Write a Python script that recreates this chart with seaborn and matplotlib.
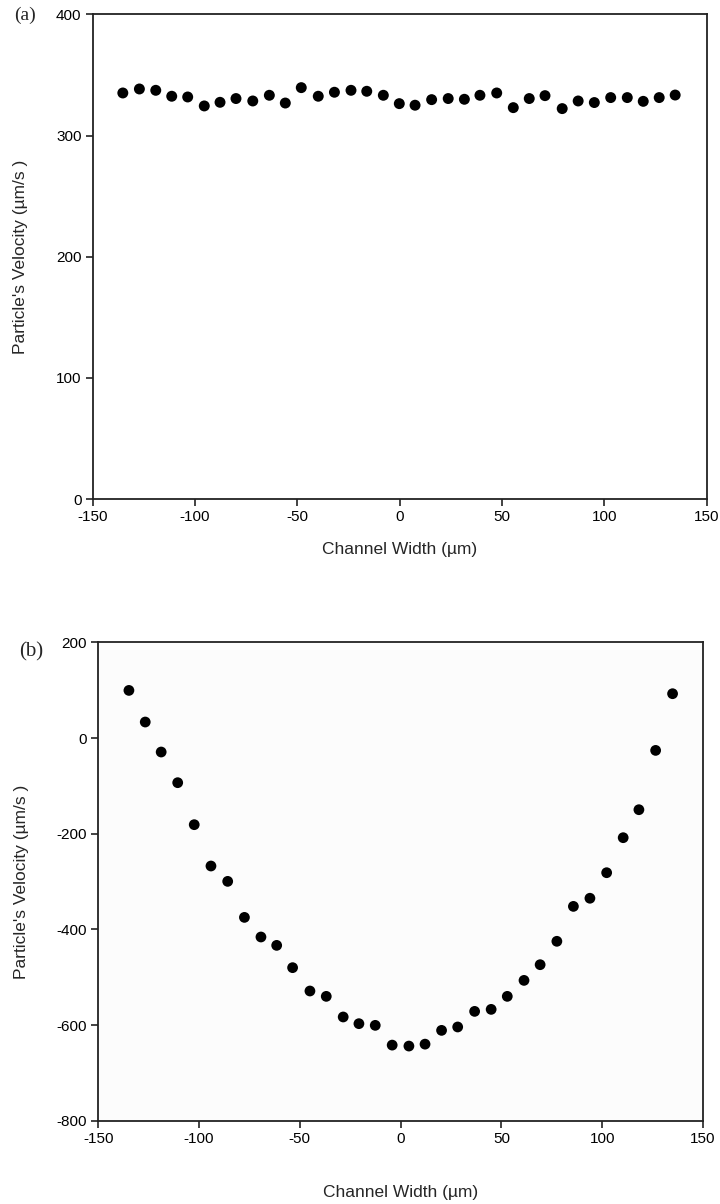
import numpy as np
import pandas as pd
import matplotlib
matplotlib.use("Agg")
import matplotlib.pyplot as plt
import seaborn as sns

# ---- data ----
x_a = [-135.3, -127.2, -119.2, -111.4, -103.6, -95.5, -87.8, -80.0, -71.8, -63.7,
       -55.9, -48.1, -39.8, -31.9, -23.8, -16.1, -8.0, -0.2, 7.5, 15.6,
       23.7, 31.6, 39.2, 47.4, 55.5, 63.3, 71.0, 79.4, 87.2, 95.1,
       103.1, 111.2, 119.0, 126.8, 134.6]
v_a = [335.1, 338.4, 337.3, 332.4, 331.8, 324.4, 327.4, 330.5, 328.5, 333.2,
       326.8, 339.5, 332.4, 335.7, 337.3, 336.5, 333.2, 326.3, 325.0, 329.6,
       330.5, 329.9, 333.2, 335.1, 323.0, 330.5, 332.9, 322.2, 328.5, 327.2,
       331.3, 331.3, 328.2, 331.3, 333.4]

x_b = [-134.8, -126.7, -118.8, -110.6, -102.4, -94.1, -85.8, -77.5, -69.3, -61.5,
       -53.6, -45.0, -36.9, -28.5, -20.7, -12.6, -4.2, 4.1, 12.1, 20.3,
       28.3, 36.7, 44.9, 52.9, 61.2, 69.2, 77.5, 85.7, 93.9, 102.2,
       110.4, 118.2, 126.5, 134.9]
v_b = [99.5, 33.4, -29.3, -93.4, -181.2, -267.6, -299.7, -375.0, -416.0, -433.5,
       -480.1, -528.9, -540.1, -583.2, -597.2, -600.7, -642.0, -644.0, -640.0, -611.2,
       -604.1, -571.5, -567.3, -540.1, -506.7, -473.9, -425.0, -352.0, -335.0, -281.6,
       -208.4, -149.9, -25.9, 92.6]

xticks = [-150, -100, -50, 0, 50, 100, 150]
yticks_a = [0, 100, 200, 300, 400]
yticks_b = [-800, -600, -400, -200, 0, 200]

xlabel = "Channel Width (\u00b5m)"
ylabel = "Particle's Velocity (\u00b5m/s )"

sns.set_theme(style="ticks")
plt.rcParams['font.family'] = ['Liberation Sans', 'DejaVu Sans']

fig = plt.figure(figsize=(7.2, 12.04), dpi=100)
ax_a = fig.add_axes([0.1288, 0.5855, 0.8527, 0.4026])
ax_b = fig.add_axes([0.1365, 0.0692, 0.8399, 0.3973])

df_a = pd.DataFrame({"x": x_a, "v": v_a})
df_b = pd.DataFrame({"x": x_b, "v": v_b})

sns.scatterplot(data=df_a, x="x", y="v", ax=ax_a, color="black", s=62,
                edgecolor="none", legend=False)
sns.scatterplot(data=df_b, x="x", y="v", ax=ax_b, color="black", s=60,
                edgecolor="none", legend=False)

for ax, yt in [(ax_a, yticks_a), (ax_b, yticks_b)]:
    ax.set_xlim(-150, 150)
    ax.set_ylim(yt[0], yt[-1])
    ax.set_xticks(xticks)
    ax.set_yticks(yt)
    ax.set_xticklabels([str(t) for t in xticks])
    ax.set_yticklabels([str(t) for t in yt])
    for sp in ax.spines.values():
        sp.set_visible(True)
        sp.set_color("#222222")
        sp.set_linewidth(1.3)
    ax.tick_params(axis="both", direction="out", length=5, width=1.2,
                   colors="#222222", labelsize=11, labelcolor="black", pad=3)
    ax.set_xlabel(xlabel, fontsize=12.5)
    ax.set_ylabel(ylabel, fontsize=12.5)
    ax.grid(False)

ax_a.set_facecolor("white")
ax_b.set_facecolor("#fcfcfc")

ax_a.yaxis.set_label_coords(-0.106, 0.5)
ax_a.xaxis.set_label_coords(0.5, -0.088)
ax_b.yaxis.set_label_coords(-0.115, 0.5)
ax_b.xaxis.set_label_coords(0.5, -0.135)

fig.text(25 / 720, 1 - 15 / 1204, "(a)", family="Liberation Serif", fontsize=14,
         ha="center", va="center")
fig.text(31 / 720, 1 - 652 / 1204, "(b)", family="Liberation Serif", fontsize=15,
         ha="center", va="center")

fig.savefig("out.png", dpi=100)
